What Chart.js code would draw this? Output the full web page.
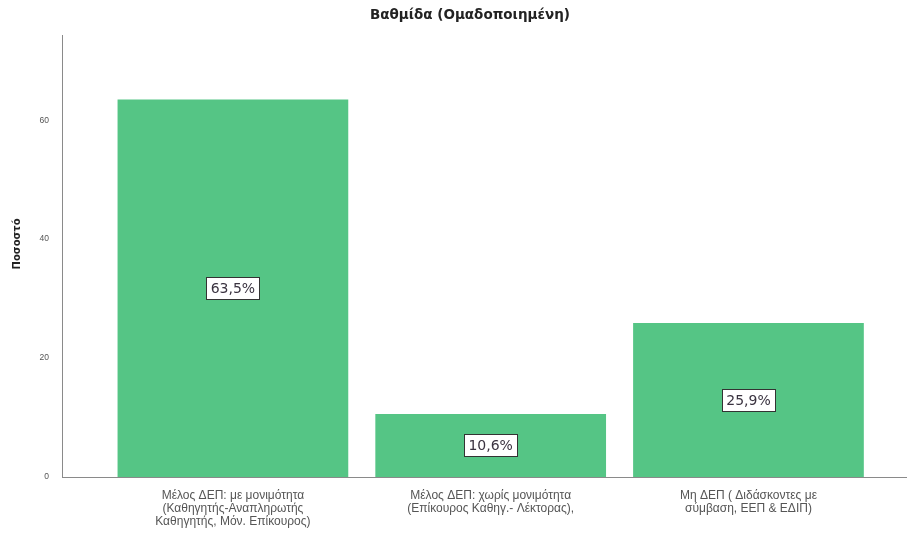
<!DOCTYPE html>
<html>
<head>
<meta charset="utf-8">
<script src="https://cdn.jsdelivr.net/npm/chart.js@4"></script>
<style>
  html, body { margin: 0; padding: 0; background: #fff; }
  #wrap { width: 907px; height: 540px; }
</style>
</head>
<body>
<div id="wrap"><canvas id="gradeChart"></canvas></div>
<script>
// data
const categories = [
  ["Μέλος ΔΕΠ: με μονιμότητα", "(Καθηγητής-Αναπληρωτής", "Καθηγητής, Μόν. Επίκουρος)"],
  ["Μέλος ΔΕΠ: χωρίς μονιμότητα", "(Επίκουρος Καθηγ.- Λέκτορας),"],
  ["Μη ΔΕΠ ( Διδάσκοντες με", "σύμβαση, ΕΕΠ & ΕΔΙΠ)"]
];
const percents = [63.5, 10.6, 25.9];
const yTicks = [0, 20, 40, 60];

const barColor = "#55c585";

// white boxed value labels in the middle of each bar
const valueLabels = {
  id: "valueLabels",
  afterDatasetsDraw(chart) {
    const ctx = chart.ctx;
    const meta = chart.getDatasetMeta(0);
    ctx.save();
    ctx.font = "14px 'DejaVu Sans'";
    ctx.textAlign = "center";
    ctx.textBaseline = "middle";
    meta.data.forEach((bar, i) => {
      const { x, y, base } = bar.getProps(["x", "y", "base"], true);
      const cy = (y + base) / 2;
      const txt = percents[i].toFixed(1).replace(".", ",") + "%";
      const w = Math.round(ctx.measureText(txt).width + 9);
      const h = 22;
      const bx = Math.round(x - w / 2) + 0.5;
      const by = Math.round(cy - h / 2) + 0.5;
      ctx.fillStyle = "#fff";
      ctx.fillRect(bx, by, w, h);
      ctx.strokeStyle = "#333";
      ctx.lineWidth = 1;
      ctx.strokeRect(bx, by, w, h);
      ctx.fillStyle = "#3a3340";
      ctx.fillText(txt, x, cy + 1);
    });
    ctx.restore();
  }
};

new Chart(document.getElementById("gradeChart"), {
  type: "bar",
  data: {
    datasets: [
      {
        label: "Ποσοστό",
        data: percents.map((v, i) => ({ x: i, y: v })),
        backgroundColor: barColor,
        borderWidth: 0,
        categoryPercentage: 1,
        barPercentage: 0.895
      }
    ]
  },
  options: {
    responsive: true,
    maintainAspectRatio: false,
    animation: false,
    layout: { padding: 0 },
    plugins: {
      legend: { display: false },
      tooltip: { enabled: false },
      title: {
        display: true,
        text: "       Βαθμίδα (Ομαδοποιημένη)",
        color: "#222",
        font: { family: "'DejaVu Sans'", size: 13.5, weight: "bold" },
        padding: { top: 7, bottom: 12 }
      }
    },
    scales: {
      x: {
        type: "linear",
        min: -0.663,
        max: 2.615,
        bounds: "data",
        offset: false,
        grid: { display: false, offset: false },
        border: { display: true, color: "#8a8a8a", width: 1 },
        afterBuildTicks: (scale) => {
          scale.ticks = categories.map((_, i) => ({ value: i }));
        },
        afterFit: (scale) => { scale.height = 63; },
        ticks: {
          autoSkip: false,
          maxRotation: 0,
          minRotation: 0,
          padding: 4,
          color: "#555",
          font: { family: "'Liberation Sans'", size: 12, lineHeight: 1.1 },
          callback: (v) => categories[v]
        }
      },
      y: {
        min: 0,
        max: 74.3,
        grid: { display: false },
        border: { display: true, color: "#8a8a8a", width: 1 },
        afterBuildTicks: (scale) => {
          scale.ticks = yTicks.map((v) => ({ value: v }));
        },
        afterFit: (scale) => { scale.width = 62; },
        ticks: {
          padding: 5,
          color: "#555",
          font: { family: "'Liberation Sans'", size: 8.5 }
        },
        title: {
          display: true,
          text: "       Ποσοστό",
          color: "#222",
          font: { family: "'DejaVu Sans'", size: 10, weight: "bold" },
          padding: { top: 11, bottom: 0 }
        }
      }
    }
  },
  plugins: [valueLabels]
});
</script>
</body>
</html>
